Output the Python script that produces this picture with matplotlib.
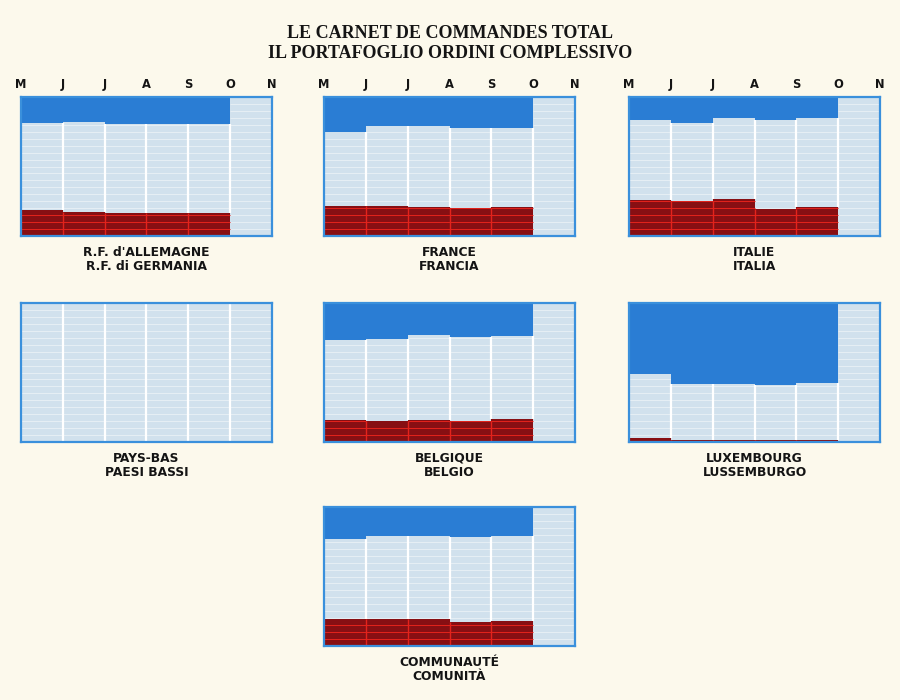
import matplotlib
matplotlib.use("Agg")
import matplotlib.pyplot as plt
import numpy as np

# ---- data (percent of respondents) ----
months = ["M", "J", "J", "A", "S", "O", "N"]
countries_fr = ["R.F. d'ALLEMAGNE", "FRANCE", "ITALIE", "PAYS-BAS", "BELGIQUE", "LUXEMBOURG", "COMMUNAUTÉ"]
countries_it = ["R.F. di GERMANIA", "FRANCIA", "ITALIA", "PAESI BASSI", "BELGIO", "LUSSEMBURGO", "COMUNITÀ"]

# bottom (red) share and top (blue) share for the 5 surveyed periods
germany_red = [18.4, 17.4, 16.5, 16.5, 16.5]
germany_blue = [18.9, 17.7, 19.1, 19.1, 19.1]
france_red = [21.5, 21.5, 20.6, 20.1, 20.6]
france_blue = [25.1, 21.1, 21.0, 22.0, 22.0]
italy_red = [25.6, 25.1, 26.3, 19.1, 21.1]
italy_blue = [16.3, 18.7, 15.1, 16.7, 15.3]
netherlands_red = []
netherlands_blue = []
belgium_red = [16.1, 14.9, 15.9, 15.2, 16.9]
belgium_blue = [26.5, 26.0, 22.9, 24.8, 23.9]
luxembourg_red = [2.8, 1.6, 1.6, 1.6, 1.6]
luxembourg_blue = [51.0, 58.1, 58.6, 59.1, 57.4]
community_red = [19.1, 19.1, 19.1, 17.2, 18.2]
community_blue = [23.0, 20.6, 20.6, 21.5, 21.0]

reds = [germany_red, france_red, italy_red, netherlands_red, belgium_red, luxembourg_red, community_red]
blues = [germany_blue, france_blue, italy_blue, netherlands_blue, belgium_blue, luxembourg_blue, community_blue]

N_COLS = 6  # columns in each panel (last one empty)

# ---- styles ----
BG = "#fcf9ec"
LIGHT = "#d1e1ed"
BLUE = "#2a7dd4"
FRAME = "#3a90dc"
DARKRED = "#870f13"
BRIGHTRED = "#e3231c"
TXT = "#141414"

plt.rcParams["font.family"] = ["DejaVu Sans"]

fig = plt.figure(figsize=(9, 7), dpi=100, facecolor=BG)

W, H = 900.0, 700.0
col_left = [21, 324, 629]
row_top = [97, 303, 507]
pw, ph = 251, 139
positions = [(0, 0), (0, 1), (0, 2), (1, 0), (1, 1), (1, 2), (2, 1)]

for k, (r, c) in enumerate(positions):
    left = col_left[c]
    top = row_top[r]
    ax = fig.add_axes([left / W, 1 - (top + ph) / H, pw / W, ph / H])
    ax.set_facecolor(LIGHT)
    ax.set_xlim(-0.5, N_COLS - 0.5)
    ax.set_ylim(0, 100)

    red = np.array(reds[k], dtype=float)
    blue = np.array(blues[k], dtype=float)
    n = len(red)
    x = np.arange(n)

    red_full = np.zeros(N_COLS)
    blue_full = np.zeros(N_COLS)
    red_full[:n] = red
    blue_full[:n] = blue

    # horizontal screen lines in light part and red part
    for i in range(N_COLS):
        for g in np.arange(5, 100, 5):
            if g < red_full[i]:
                ax.hlines(g, i - 0.5, i + 0.5, color=BRIGHTRED, lw=0.7, zorder=3)
            elif g < 100 - blue_full[i]:
                ax.hlines(g, i - 0.5, i + 0.5, color="white", lw=0.7, alpha=0.45, zorder=1)

    if n:
        ax.bar(x, red, width=1.0, color=DARKRED, edgecolor="none", zorder=2)
        ax.bar(x, blue, width=1.0, bottom=100 - blue, color=BLUE, edgecolor="none", zorder=2)

    # column separators
    for i in range(N_COLS - 1):
        lo_white = max(red_full[i], red_full[i + 1])
        hi_white = min(100 - blue_full[i], 100 - blue_full[i + 1])
        if hi_white > lo_white:
            ax.vlines(i + 0.5, lo_white, hi_white, color="white", lw=1.6, zorder=4)
        lo_red = min(red_full[i], red_full[i + 1])
        if lo_red > 0:
            ax.vlines(i + 0.5, 0, lo_red, color=BRIGHTRED, lw=1.0, zorder=4)

    for s in ax.spines.values():
        s.set_color(FRAME)
        s.set_linewidth(1.6)
        s.set_zorder(5)

    ax.set_yticks([])
    if r == 0:
        ax.xaxis.tick_top()
        ax.set_xticks(np.arange(-0.5, N_COLS))
        ax.set_xticklabels(months, fontsize=8.3, fontweight="bold", color=TXT)
        ax.tick_params(axis="x", length=0, pad=4.5)
    else:
        ax.set_xticks([])

    cx = (left + pw / 2) / W
    fig.text(cx, 1 - (top + ph + 16) / H, countries_fr[k], ha="center", va="center",
             fontsize=8.8, fontweight="bold", color=TXT)
    fig.text(cx, 1 - (top + ph + 30) / H, countries_it[k], ha="center", va="center",
             fontsize=8.8, fontweight="bold", color=TXT)

fig.text(0.5, 1 - 34 / H, "LE CARNET DE COMMANDES TOTAL", ha="center", va="center",
         family=["Liberation Serif"], fontweight="bold", fontsize=13, color=TXT)
fig.text(0.5, 1 - 54 / H, "IL PORTAFOGLIO ORDINI COMPLESSIVO", ha="center", va="center",
         family=["Liberation Serif"], fontweight="bold", fontsize=13, color=TXT)

fig.savefig("out.png", dpi=100, facecolor=BG)
